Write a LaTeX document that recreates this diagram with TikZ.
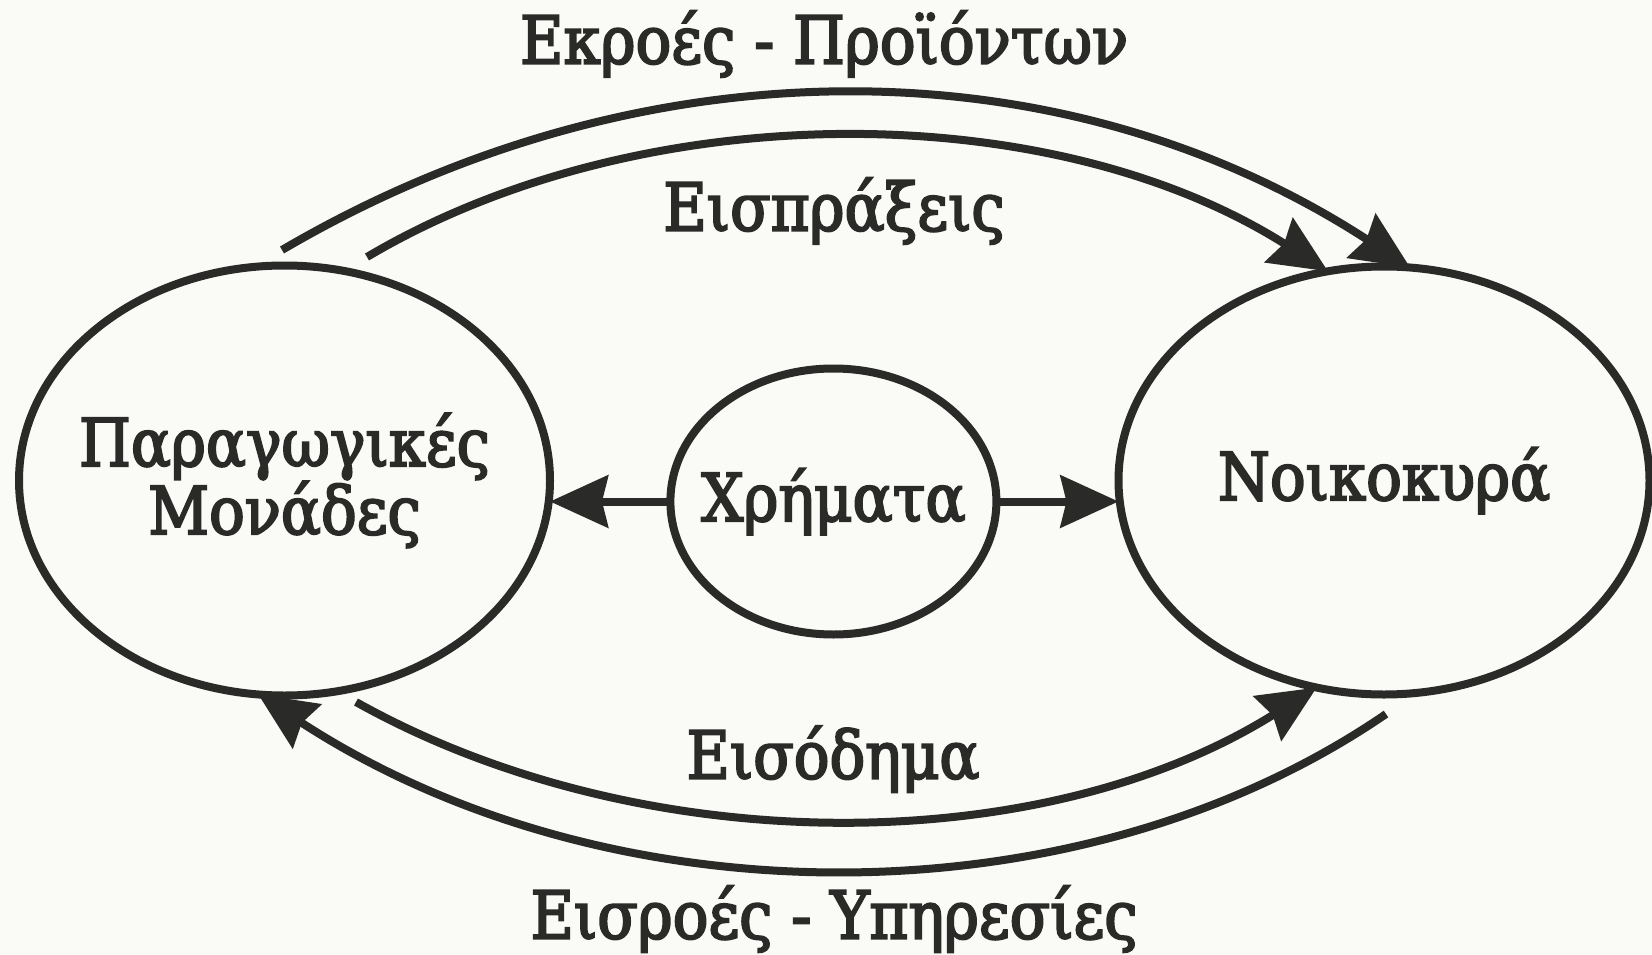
\documentclass[tikz,border=0pt]{standalone}
\usepackage{fontspec}
\setmainfont{DejaVu Serif Condensed}
\newfontfamily\lblfont{DejaVu Serif Condensed}[FakeBold=3]
\usetikzlibrary{arrows.meta,shapes.geometric}
\definecolor{ink}{RGB}{42,42,40}
\definecolor{paper}{RGB}{250,250,247}

\begin{document}
\begin{tikzpicture}[x=1pt,y=-1pt,
        line width=8pt, color=ink,
        >={Stealth[length=58pt,width=52pt,inset=6pt]},
        unit/.style={draw, ellipse, inner sep=0pt, outer sep=0pt},
        lbl/.style={font=\fontsize{66}{68}\lblfont, text=ink}]
        \fill[paper] (0,0) rectangle (1652,955);
        \useasboundingbox (0,0) rectangle (1652,955);

        \node[unit, minimum width=531pt, minimum height=430pt,
              label={[lbl,align=center]center:Παραγωγικές\\Μονάδες}] (firms) at (284.5,480.5) {};
        \node[unit, minimum width=531pt, minimum height=428pt,
              label={[lbl]center:Νοικοκυρά}] (homes) at (1384,480.5) {};
        \node[unit, minimum width=326pt, minimum height=266pt,
              label={[lbl]center:Χρήματα}] (money) at (833.4,501.5) {};

        \node[lbl] (products) at (824,44) {Εκροές - Προϊόντων};
        \node[lbl] (receipts) at (834,211) {Εισπράξεις};
        \node[lbl] (income) at (833,759) {Εισόδημα};
        \node[lbl] (services) at (834,919) {Εισροές - Υπηρεσίες};

        \coordinate (outA) at (282,250);
        \coordinate (inA) at (367,257);
        \coordinate (inB) at (356,702);
        \coordinate (outB) at (1386,714);

        % flows round the two units
        \draw[->] (outA) .. controls (640,40) and (1060,40) .. (homes.83);
        \draw[->] (inA) .. controls (640,95) and (1050,95) .. (homes.105);
        \draw[->] (inB) .. controls (640,861) and (1040,861) .. (homes.252);
        \draw[->] (outB) .. controls (1080,924) and (610,924) .. (firms.263);

        \draw[->] (money.west) -- (money.west -| firms.east);
        \draw[->] (money.east) -- (money.east -| homes.west);
\end{tikzpicture}
\end{document}
